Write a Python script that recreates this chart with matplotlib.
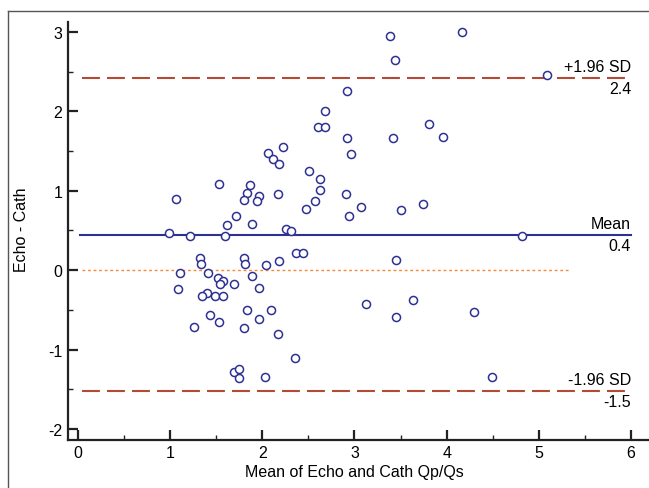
import matplotlib
matplotlib.use('Agg')
import matplotlib.pyplot as plt
from matplotlib.lines import Line2D
import numpy as np

# Bland-Altman data: mean of the two methods and their difference
mean_qpqs = [3.39, 4.17, 3.44, 5.09, 2.92, 2.68, 2.61, 2.68, 2.92, 3.42,
             3.81, 3.96, 2.22, 2.06, 2.12, 2.18, 2.96, 2.51, 2.63, 2.63,
             1.53, 1.87, 1.83, 1.80, 1.97, 1.94, 2.17, 2.91, 1.06, 2.57,
             2.48, 3.07, 3.74, 3.51, 1.72, 2.94, 1.62, 1.89, 2.26, 2.31,
             0.99, 1.22, 1.60, 4.82, 2.37, 2.44, 1.32, 1.34, 1.80, 1.81,
             2.04, 2.18, 3.45, 1.11, 1.41, 1.89, 1.52, 1.57, 1.54, 1.69,
             1.97, 1.09, 1.40, 1.35, 1.49, 1.58, 3.12, 3.64, 1.43, 1.53,
             1.84, 2.09, 1.96, 3.45, 4.30, 1.26, 1.80, 2.17, 2.35, 1.69,
             1.75, 1.75, 2.03, 4.49]
diff_qpqs = [2.95, 3.00, 2.65, 2.46, 2.26, 2.00, 1.80, 1.80, 1.66, 1.67,
             1.84, 1.68, 1.55, 1.47, 1.40, 1.34, 1.46, 1.25, 1.15, 1.01,
             1.08, 1.07, 0.97, 0.88, 0.93, 0.87, 0.96, 0.96, 0.90, 0.87,
             0.77, 0.79, 0.83, 0.76, 0.68, 0.68, 0.57, 0.58, 0.52, 0.49,
             0.47, 0.43, 0.43, 0.43, 0.22, 0.22, 0.15, 0.08, 0.15, 0.08,
             0.07, 0.11, 0.13, -0.03, -0.03, -0.07, -0.10, -0.13, -0.18, -0.18,
             -0.22, -0.24, -0.29, -0.33, -0.32, -0.33, -0.42, -0.38, -0.56, -0.65,
             -0.50, -0.50, -0.61, -0.59, -0.53, -0.72, -0.73, -0.80, -1.10, -1.28,
             -1.24, -1.36, -1.34, -1.34]

mean_diff = 0.44
upper_loa = 2.42
lower_loa = -1.52
line_labels = [('+1.96 SD', '2.4'), ('Mean', '0.4'), ('-1.96 SD', '-1.5')]

plt.rcParams['font.family'] = ['Liberation Sans', 'DejaVu Sans']
plt.rcParams['axes.unicode_minus'] = False

fig = plt.figure(figsize=(6.49, 4.89), dpi=100)
ax = fig.add_axes([0.1048, 0.0988, 0.8932, 0.8548])

# outer frame of the figure (top and left edges visible)
fig.add_artist(Line2D([8 / 649, 1], [1 - 12 / 489, 1 - 12 / 489],
                      transform=fig.transFigure, color='#555555', lw=1.0))
fig.add_artist(Line2D([8 / 649, 8 / 649], [0, 1 - 12 / 489],
                      transform=fig.transFigure, color='#555555', lw=1.0))

# reference lines
ax.plot([0.05, 5.95], [upper_loa, upper_loa], color='#B24A36', lw=1.5,
        linestyle=(0, (8.6, 3.4)), zorder=2)
ax.plot([0.05, 5.95], [lower_loa, lower_loa], color='#B24A36', lw=1.5,
        linestyle=(0, (8.6, 3.4)), zorder=2)
ax.plot([0.02, 6.0], [mean_diff, mean_diff], color='#2E3192', lw=1.5, zorder=2)
ax.plot([0.05, 5.34], [0, 0], color='#F7883A', lw=1.0,
        linestyle=(0, (2, 2)), zorder=2)

# scatter
ax.plot(mean_qpqs, diff_qpqs, 'o', ms=5.8, mfc='white', mec='#2E3192',
        mew=1.1, zorder=3)

# line labels
for yv, (top, bot) in zip([upper_loa, mean_diff, lower_loa], line_labels):
    ax.annotate(top, (6.0, yv), xytext=(0, 3), textcoords='offset points',
                ha='right', va='bottom', fontsize=11.5)
    ax.annotate(bot, (6.0, yv), xytext=(0, -2), textcoords='offset points',
                ha='right', va='top', fontsize=11.5)

ax.set_xlim(-0.106, 6.18)
ax.set_ylim(-2.135, 3.13)
ax.set_xticks(range(0, 7))
ax.set_yticks(range(-2, 4))
ax.set_xticks(np.arange(0.5, 6, 1), minor=True)
ax.set_yticks(np.arange(-1.5, 3, 1), minor=True)

for side in ['top', 'right']:
    ax.spines[side].set_visible(False)
for side in ['left', 'bottom']:
    ax.spines[side].set_linewidth(1.6)
    ax.spines[side].set_color('#222222')

ax.tick_params(which='major', direction='in', length=7, width=1.6,
               labelsize=11.5, pad=4, color='#222222')
ax.tick_params(which='minor', direction='in', length=3.5, width=1.0,
               color='#222222')

fig.text(354 / 649, 1 - 473 / 489, 'Mean of Echo and Cath Qp/Qs',
         ha='center', va='center', fontsize=11.5)
fig.text(22 / 649, 1 - 230 / 489, 'Echo - Cath', ha='center', va='center',
         rotation=90, fontsize=11.5)

fig.savefig('out.png', dpi=100)
